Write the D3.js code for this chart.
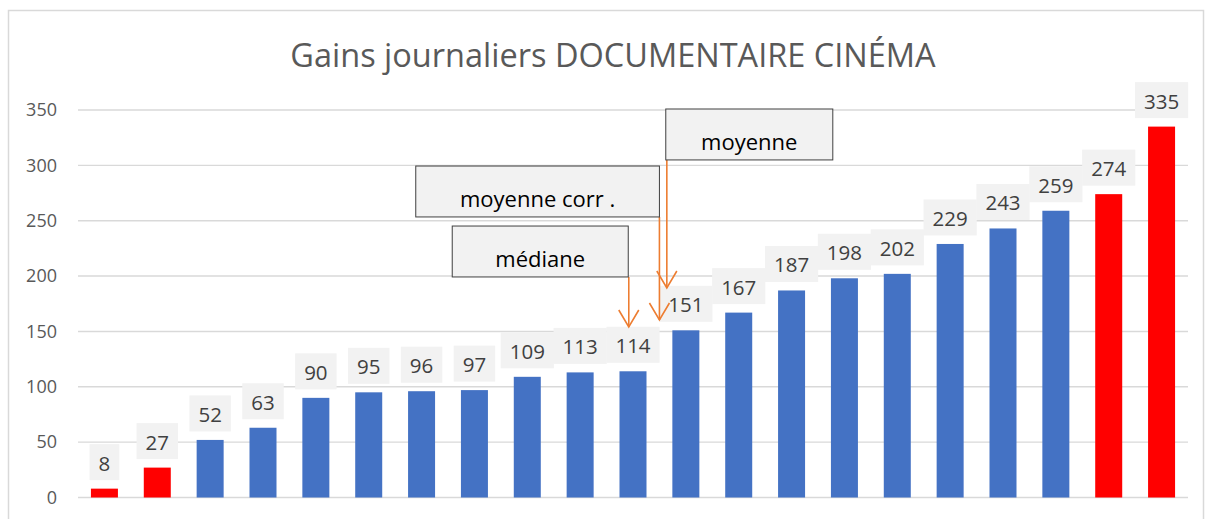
<!DOCTYPE html>
<html>
<head>
<meta charset="utf-8">
<script src="https://cdn.jsdelivr.net/npm/d3@7"></script>
<style>
  body { margin: 0; background: #fff; }
  svg { display: block; font-family: "Open Sans", sans-serif; }
</style>
</head>
<body>
<svg id="chart"></svg>
<script>
// data
var days = d3.range(1, 22).map(String);
var gains = [8, 27, 52, 63, 90, 95, 96, 97, 109, 113, 114, 151, 167, 187, 198, 202, 229, 243, 259, 274, 335];
var outliers = [0, 1, 19, 20];   // bars drawn in red
var yTicks = [0, 50, 100, 150, 200, 250, 300, 350];

// annotation boxes: band position (fractional index) and y values
var notes = [
  {label: "médiane", x0: 7.08, x1: 10.41, top: 245.2, bottom: 199.2, ax: 10.42, tip: 154},
  {label: "moyenne corr .", x0: 6.39, x1: 11.0, top: 299.4, bottom: 253.4, ax: 11.0, tip: 160.3},
  {label: "moyenne", x0: 11.12, x1: 14.28, top: 350.9, bottom: 304.9, ax: 11.14, tip: 189.2}
];

var W = 1206, H = 519;
var svg = d3.select("#chart").attr("width", W).attr("height", H);

// chart frame
svg.append("rect")
  .attr("x", 8.5).attr("y", 10.5)
  .attr("width", 1195).attr("height", 530)
  .attr("fill", "#fff").attr("stroke", "#d9d9d9").attr("stroke-width", 1.5);

// title
svg.append("text")
  .attr("x", 613).attr("y", 67)
  .attr("text-anchor", "middle")
  .attr("font-size", 32.5)
  .attr("fill", "#595959")
  .text("Gains journaliers DOCUMENTAIRE CINÉMA");

var pad = 1 - 27 / (1110 / 21);
var x = d3.scaleBand().domain(days).range([78, 1188])
  .paddingInner(pad).paddingOuter(pad / 2);
var y = d3.scaleLinear().domain([0, 350]).range([497.5, 110]);

// position along the band axis from a fractional index
function xi(i) { return x.range()[0] + i * x.step(); }

// gridlines
svg.append("g").selectAll("line")
  .data(yTicks)
  .enter().append("line")
    .attr("x1", 78).attr("x2", 1188)
    .attr("y1", function(d) { return y(d); })
    .attr("y2", function(d) { return y(d); })
    .attr("stroke", "#d9d9d9").attr("stroke-width", 1.4);

// y axis labels
var yAxis = svg.append("g")
  .attr("transform", "translate(78,0)")
  .call(d3.axisLeft(y).tickValues(yTicks).tickSize(0).tickPadding(21));
yAxis.select(".domain").remove();
yAxis.selectAll("text")
  .attr("font-family", "Open Sans, sans-serif")
  .attr("font-size", 18)
  .attr("fill", "#595959");

// bars
svg.append("g").selectAll("rect")
  .data(gains)
  .enter().append("rect")
    .attr("x", function(d, i) { return x(days[i]); })
    .attr("y", function(d) { return y(d); })
    .attr("width", x.bandwidth())
    .attr("height", function(d) { return y(0) - y(d); })
    .attr("fill", function(d, i) { return outliers.indexOf(i) >= 0 ? "#ff0000" : "#4472c4"; });

// data labels with grey boxes
var labels = svg.append("g").selectAll("g")
  .data(gains)
  .enter().append("g");
labels.each(function(d, i) {
  var g = d3.select(this);
  var cx = x(days[i]) + x.bandwidth() / 2;
  var bottom = y(d) - 8.5;
  var rect = g.append("rect").attr("fill", "#f2f2f2");
  var t = g.append("text")
    .attr("x", cx).attr("y", bottom - 9.5)
    .attr("text-anchor", "middle")
    .attr("font-size", 20.5)
    .attr("fill", "#404040")
    .text(d);
  var w = t.node().getComputedTextLength() + 18;
  rect.attr("x", cx - w / 2).attr("y", bottom - 36)
    .attr("width", w).attr("height", 36);
});

// annotations
var orange = "#ed7d31";
notes.forEach(function(n) {
  var bx0 = xi(n.x0), bx1 = xi(n.x1), by0 = y(n.top), by1 = y(n.bottom);
  var ax = xi(n.ax), tipY = y(n.tip);
  svg.append("line")
    .attr("x1", ax).attr("x2", ax)
    .attr("y1", by1).attr("y2", tipY)
    .attr("stroke", orange).attr("stroke-width", 1.6);
  svg.append("path")
    .attr("d", "M" + (ax - 10) + "," + (tipY - 17) + "L" + ax + "," + tipY + "L" + (ax + 10) + "," + (tipY - 17))
    .attr("fill", "none").attr("stroke", orange).attr("stroke-width", 1.6);
  svg.append("rect")
    .attr("x", bx0).attr("y", by0)
    .attr("width", bx1 - bx0).attr("height", by1 - by0)
    .attr("fill", "#f2f2f2").attr("stroke", "#404040").attr("stroke-width", 1);
  svg.append("text")
    .attr("x", (bx0 + bx1) / 2).attr("y", by0 + 41)
    .attr("text-anchor", "middle")
    .attr("font-size", 22)
    .attr("fill", "#000")
    .text(n.label);
});
</script>
</body>
</html>
